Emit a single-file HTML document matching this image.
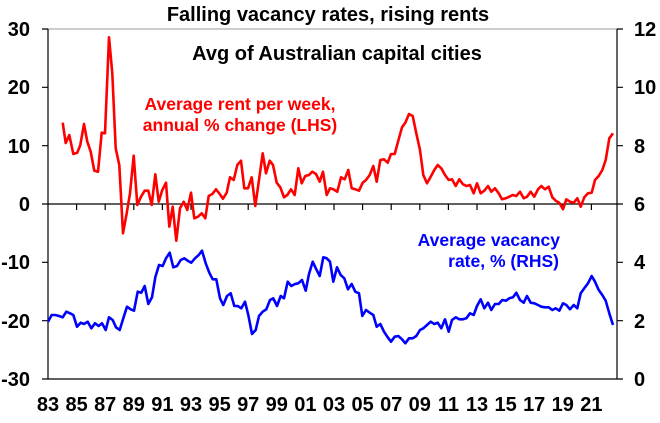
<!DOCTYPE html>
<html><head><meta charset="utf-8"><style>
body{margin:0;background:#fff}
svg text{font-family:"Liberation Sans",Arial,sans-serif;font-weight:bold}
</style></head><body>
<svg width="660" height="418" viewBox="0 0 660 418" xmlns="http://www.w3.org/2000/svg">
<rect width="660" height="418" fill="#fff"/>
<line x1="48" y1="29" x2="617" y2="29" stroke="#999" stroke-width="1"/>
<g stroke="#000" stroke-width="1.2" fill="none">
<line x1="48" y1="29" x2="48" y2="379"/>
<line x1="617" y1="29" x2="617" y2="379"/>
<line x1="48" y1="379" x2="617" y2="379"/>
<line x1="48" y1="204" x2="617" y2="204"/>
<path d="M42 29H48M42 87.3H48M42 145.7H48M42 204H48M42 262.3H48M42 320.7H48M42 379H48"/>
<path d="M617 29H623M617 87.3H623M617 145.7H623M617 204H623M617 262.3H623M617 320.7H623M617 379H623"/>
<path d="M76.6 204v6M105.2 204v6M133.8 204v6M162.4 204v6M191 204v6M219.6 204v6M248.2 204v6M276.8 204v6M305.4 204v6M334 204v6M362.6 204v6M391.2 204v6M419.8 204v6M448.4 204v6M477 204v6M505.6 204v6M534.2 204v6M562.8 204v6M591.4 204v6"/>
</g>
<g font-size="20" text-anchor="end" fill="#000">
<text x="30" y="36">30</text><text x="30" y="94">20</text><text x="30" y="153">10</text><text x="30" y="211">0</text>
<text x="30" y="269">-10</text><text x="30" y="328">-20</text><text x="30" y="386">-30</text>
</g>
<g font-size="20" text-anchor="start" fill="#000">
<text x="634" y="36">12</text><text x="634" y="94">10</text><text x="634" y="153">8</text><text x="634" y="211">6</text>
<text x="634" y="269">4</text><text x="634" y="328">2</text><text x="634" y="386">0</text>
</g>
<g font-size="20" text-anchor="middle" fill="#000">
<text x="48" y="411">83</text><text x="76.6" y="411">85</text><text x="105.2" y="411">87</text><text x="133.8" y="411">89</text>
<text x="162.4" y="411">91</text><text x="191" y="411">93</text><text x="219.6" y="411">95</text><text x="248.2" y="411">97</text>
<text x="276.8" y="411">99</text><text x="305.4" y="411">01</text><text x="334" y="411">03</text><text x="362.6" y="411">05</text>
<text x="391.2" y="411">07</text><text x="419.8" y="411">09</text><text x="448.4" y="411">11</text><text x="477" y="411">13</text>
<text x="505.6" y="411">15</text><text x="534.2" y="411">17</text><text x="562.8" y="411">19</text><text x="591.4" y="411">21</text>
</g>
<text x="328" y="21" font-size="20" text-anchor="middle">Falling vacancy rates, rising rents</text>
<text x="337" y="60" font-size="20" text-anchor="middle">Avg of Australian capital cities</text>
<text x="240" y="110" font-size="17.5" text-anchor="middle" fill="#f00">Average rent per week,</text>
<text x="240" y="131" font-size="17.5" text-anchor="middle" fill="#f00">annual % change (LHS)</text>
<text x="560" y="246" font-size="17.5" text-anchor="end" fill="#00f">Average vacancy</text>
<text x="559" y="267" font-size="17.5" text-anchor="end" fill="#00f">rate, % (RHS)</text>
<polyline fill="none" stroke="#f00" stroke-width="2.6" stroke-linejoin="round" points="62.7,122.7 65.7,143 69.3,135 73.3,154 77.3,152.7 80.3,145 84,124 87.3,141.7 90.7,151.7 94.3,170.7 98,171.7 101.7,132.7 105,133.3 109,37.3 112.3,73.3 115.7,148.3 119.3,165 123,233.3 126.7,213.3 130,193.3 133.7,155.7 137.3,205 141,196.7 144.7,190.7 148.3,190.7 151.7,205 155.3,174.3 158.7,201.7 162.3,190 166,182.7 169.3,226.7 172.7,206.7 176.3,240.7 180,208.3 183.7,201.7 187.3,210 191,192.7 194.3,218.3 198,216.7 201.7,213.3 205.3,218.3 208.7,196 212.3,194 216,189.3 219.7,194 223,198.7 226.7,192.7 230,177.3 233.7,180 237.3,165 241,160.7 244.3,188.3 248,188.3 251.7,177.3 255.3,206 259,180 262.7,153.3 266,173.3 269.7,160.7 273,165 276.7,182.7 280.3,187.3 284,197.3 287.3,195 291,189.3 294.7,195 298.3,168.3 301.7,183.3 305.3,176 309,175 312.3,171.7 316,174 319.7,181.7 323,171.7 326.7,195 330,188.3 333.3,189.3 337.3,191.7 341,177.3 344.7,179.3 348.3,170 351.7,188.3 355.3,189.3 359,190.7 362.7,182.7 366,180 369.7,175 373.3,166 376.7,181.7 380.3,160 384,159.3 387.7,162.7 391,154 394.7,154 398.3,140.7 402,127.3 405.3,122.7 409,114 412.7,116 416.3,133.3 420,150 423.3,175 427,183.3 430.7,176.7 434.3,170 437.7,165 441.3,168.3 445,175 448.7,180 452,179.3 455.7,186 459.3,179.3 462.7,184 466.3,186 470,185 473.7,193.3 477,183.3 480.7,193.3 484.3,190.7 488,186 491.3,191.7 495,188.3 498.7,193.3 502,199.3 505.7,198.3 509.3,196.7 512.7,195 516.3,196 520,191.7 523.7,198.3 527,196.7 530.7,191.7 534.3,196.7 538,189.3 541.3,186 545,189.3 548.7,186.7 552.3,197.3 555.7,200.7 559.3,202.7 563,209.3 566.3,199.3 570,201.7 573.7,202.7 577.3,198.3 580.7,206.7 584.3,197.3 588,193.3 591.7,192.7 595,180 598.7,176 602.3,170 605.7,160 609.3,138.3 613,133.3"/>
<polyline fill="none" stroke="#00f" stroke-width="2.6" stroke-linejoin="round" points="48,321.7 51.7,315 55.3,315 59,316 62.7,317.3 66.3,311.7 70,313.3 73.3,315 77,326.7 80.7,322.7 84,324 87.7,321.7 91.3,328.3 95,323.3 98.7,326 102,323.3 105.7,330 109,317.3 112.7,320 116,327.3 119.7,330 123.3,318.3 127,306.7 130.7,309.3 134,310.7 137.7,291.7 141.3,292.7 144.7,286 148.3,304 152,297.3 155.3,277.3 159,265 162.7,266 166,258.3 169.7,252.7 173.3,267.3 177,266 180.7,260 184.3,258.3 187.7,260.7 191.3,262.7 195,258.3 198.7,255 202,250.7 205.7,263.3 209.3,272.7 212.7,279.3 216.3,279.3 220,298.3 223.3,305 227,296 230.7,293.3 234.3,306 237.7,306 241.3,308.3 245,301.7 248.3,315 252,334 255.7,330 259,316 262.7,311.7 266.3,309.3 270,300 273.3,298.3 277,306 280.7,296 284,298.3 287.7,281.7 291.3,286 295,284 298.3,283.3 302,280 305.7,290.7 309,274 312.7,261.7 316.3,269.3 319.7,276 323.3,257.3 326.7,258.3 330,261.7 333.3,281.7 337,267.3 340.7,275 344.3,278.3 348,289.3 351.7,284 355.3,291.7 359,293.3 362.3,316 366,310 369.7,312.7 373.3,315 376.7,326.7 380.3,324 384,331.7 387.3,336.7 391,341.7 394.7,336.7 398.3,336 402,339.3 405.3,343.3 409,338.3 412.7,338.3 416.3,336 420,330 423.3,328.3 427,325 430.7,321.7 434.3,324 437.7,322.7 441.3,328.3 445,319.3 448.7,331.7 452,320 455.7,317.3 459.3,319.3 463,319.3 466.3,318.3 470,313.3 473.7,315 477,306 480.7,299.3 484.3,308.3 488,302.7 491.3,310 495,304 498.7,304 502.3,300 506,300.7 509.3,298.3 513,297.3 516.3,292.7 520,300 523.7,302.7 527,296 530.7,302.7 534.3,303.3 538,305 541.3,306.7 545,307.3 548.7,307.3 552.3,310 555.7,308.3 559.3,310.7 563,303.3 566.3,305 570,309.3 573.7,305 577.3,308.3 580.7,293.3 584.3,288.3 588,283.3 591.7,276 595,281.7 598.7,290 602.3,295 605.7,300.7 609.3,313.3 613,325"/>
</svg>
</body></html>
